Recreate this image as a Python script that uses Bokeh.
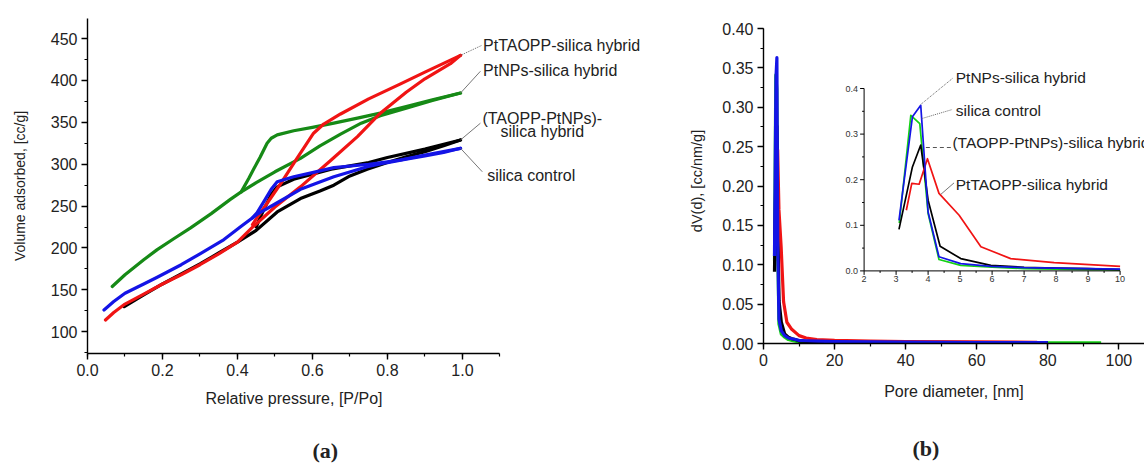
from bokeh.plotting import figure
from bokeh.models import Range1d, SingleIntervalTicker, PrintfTickFormatter, Title
from bokeh.layouts import row
from bokeh.embed import file_html
from bokeh.resources import INLINE
from bokeh.core.properties import value

# ---------------- Panel (a): N2 isotherms (P/Po, volume adsorbed cc/g)
green_ads_x = [0.066, 0.1, 0.15, 0.186, 0.23, 0.275, 0.33, 0.381, 0.41, 0.45, 0.5, 0.568, 0.62, 0.675, 0.73, 0.781, 0.85, 0.92, 0.995]
green_ads_y = [154, 168, 186, 198, 211, 224, 241, 258, 267, 278, 291, 307, 322, 336, 349, 358, 367, 376, 385]
green_des_x = [0.995, 0.92, 0.85, 0.781, 0.72, 0.657, 0.6, 0.55, 0.506, 0.49, 0.479, 0.46, 0.444, 0.43, 0.41]
green_des_y = [385, 377, 369, 361, 355, 349, 344, 340, 335, 331, 325, 308, 295, 283, 267]

red_ads_x = [0.048, 0.07, 0.1, 0.15, 0.2, 0.25, 0.3, 0.35, 0.4, 0.443, 0.5, 0.568, 0.65, 0.72, 0.781, 0.85, 0.9, 0.968, 0.995]
red_ads_y = [114, 123, 133, 145, 157, 168, 180, 193, 207, 226, 249, 273, 305, 333, 361, 386, 402, 420, 430]
red_des_x = [0.995, 0.9, 0.835, 0.75, 0.675, 0.63, 0.603, 0.56, 0.52, 0.48, 0.452, 0.44]
red_des_y = [430, 410, 396, 378, 360, 348, 337, 308, 280, 254, 236, 228]

black_ads_x = [0.098, 0.15, 0.2, 0.25, 0.3, 0.35, 0.4, 0.45, 0.506, 0.568, 0.62, 0.657, 0.7, 0.746, 0.8, 0.85, 0.9, 0.95, 0.995]
black_ads_y = [130, 144, 157, 169, 181, 194, 207, 221, 243, 259, 268, 275, 286, 294, 302, 309, 315, 322, 329]
black_des_x = [0.995, 0.9, 0.8, 0.75, 0.7, 0.65, 0.6, 0.55, 0.506, 0.49, 0.475, 0.46, 0.45]
black_des_y = [329, 318, 308, 302, 298, 294, 288, 282, 273, 264, 250, 236, 225]

blue_ads_x = [0.044, 0.07, 0.1, 0.15, 0.186, 0.25, 0.3, 0.364, 0.41, 0.452, 0.506, 0.568, 0.657, 0.746, 0.8, 0.85, 0.9, 0.95, 0.995]
blue_ads_y = [126, 136, 146, 157, 165, 180, 193, 210, 226, 240, 254, 270, 285, 297, 302, 306, 310, 314, 319]
blue_des_x = [0.995, 0.9, 0.835, 0.75, 0.657, 0.6, 0.55, 0.506, 0.49, 0.47, 0.452, 0.44]
blue_des_y = [319, 311, 305, 300, 296, 290, 285, 279, 270, 255, 242, 236]

names_a = ["PtTAOPP-silica hybrid", "PtNPs-silica hybrid", "(TAOPP-PtNPs)-", "silica hybrid", "silica control"]

# ---------------- Panel (b): pore size distribution (nm, cc/nm/g)
blue_d = [3.09, 3.51, 3.77, 4.0, 4.34, 5.02, 5.96, 7.0, 8.0, 9.0, 10.0, 12, 15, 20, 30, 40, 50, 60, 70, 80]
blue_v = [0.111, 0.338, 0.363, 0.129, 0.031, 0.016, 0.010, 0.007, 0.006, 0.005, 0.004, 0.0035, 0.003, 0.0025, 0.002, 0.0017, 0.0015, 0.0013, 0.0012, 0.001]
green_d = [3.1, 3.46, 3.74, 4.0, 4.34, 5.02, 6.0, 7.0, 8.0, 9.0, 10.0, 15, 20, 40, 60, 80, 95]
green_v = [0.105, 0.341, 0.323, 0.126, 0.025, 0.012, 0.008, 0.005, 0.004, 0.003, 0.002, 0.0015, 0.0012, 0.001, 0.0008, 0.0008, 0.0008]
black_d = [3.09, 3.51, 3.77, 4.0, 4.375, 5.02, 5.96, 7, 8, 9, 10, 15, 20, 40, 60, 80]
black_v = [0.091, 0.228, 0.276, 0.155, 0.054, 0.027, 0.012, 0.008, 0.006, 0.005, 0.003, 0.0025, 0.002, 0.0015, 0.0012, 0.001]
red_d = [3.32, 3.49, 3.72, 3.98, 4.34, 4.97, 5.65, 6.58, 7.94, 10, 12, 15, 20, 30, 40, 60, 77]
red_v = [0.133, 0.192, 0.190, 0.246, 0.170, 0.122, 0.053, 0.027, 0.018, 0.010, 0.007, 0.005, 0.004, 0.003, 0.0025, 0.002, 0.0015]

names_b = ["PtNPs-silica hybrid", "silica control", "(TAOPP-PtNPs)-silica hybrid", "PtTAOPP-silica hybrid"]
inset_xticks = [2, 3, 4, 5, 6, 7, 8, 9, 10]
inset_yticks = [0.0, 0.1, 0.2, 0.3, 0.4]

FONT = "Liberation Sans"
RED, GREEN_A, BLUE, BLACK, GREEN_B = "#f01414", "#168a16", "#1414e6", "#000000", "#14d214"


def style(p):
    p.outline_line_color = None
    p.grid.visible = False
    p.background_fill_color = "white"
    p.border_fill_color = "white"
    for ax in (p.xaxis[0], p.yaxis[0]):
        ax.axis_line_width = 1.4
        ax.major_tick_line_width = 1.4
        ax.minor_tick_line_width = 1.2
        ax.major_tick_out = 6
        ax.major_tick_in = 0
        ax.minor_tick_out = 3
        ax.minor_tick_in = 0
        ax.major_label_text_font = FONT
        ax.major_label_text_font_size = "16px"
        ax.major_label_text_color = "#222222"
        ax.axis_label_text_font = FONT
        ax.axis_label_text_font_size = "16px"
        ax.axis_label_text_font_style = "normal"
        ax.axis_label_text_color = "#222222"
    p.yaxis[0].axis_label_text_font_size = "14px"
    p.xaxis[0].major_label_standoff = 4
    p.xaxis[0].axis_label_standoff = 14
    p.yaxis[0].major_label_standoff = 4
    p.yaxis[0].axis_label_standoff = 20


def below_title(p, text, offset, standoff, font, size, bold=False):
    t = Title(text=text, align="left", offset=offset, standoff=standoff, text_font=font,
              text_font_size=size, text_font_style="bold" if bold else "normal", text_color="#222222")
    p.add_layout(t, "below")


# ---------------- figure (a)
p1 = figure(frame_width=568, frame_height=335, min_border_left=87, min_border_right=25,
            min_border_top=18, min_border_bottom=113,
            x_range=Range1d(0, 1.515), y_range=Range1d(74, 474),
            y_axis_label="Volume adsorbed, [cc/g]",
            output_backend="svg", toolbar_location=None)
style(p1)
p1.xaxis[0].ticker = SingleIntervalTicker(interval=0.2, num_minor_ticks=2)
p1.xaxis[0].formatter = PrintfTickFormatter(format="%.1f")
p1.xaxis[0].bounds = (0, 1.1)
p1.yaxis[0].ticker = SingleIntervalTicker(interval=50, num_minor_ticks=2)
below_title(p1, "Relative pressure, [P/Po]", 118, 18, FONT, "16px")
below_title(p1, "(a)", 225, 40, "Liberation Serif", "22px", bold=True)

for xs, ys, c in [(green_ads_x, green_ads_y, GREEN_A), (green_des_x, green_des_y, GREEN_A),
                  (black_ads_x, black_ads_y, BLACK), (black_des_x, black_des_y, BLACK),
                  (red_ads_x, red_ads_y, RED), (red_des_x, red_des_y, RED),
                  (blue_ads_x, blue_ads_y, BLUE), (blue_des_x, blue_des_y, BLUE)]:
    p1.line(xs, ys, line_color=c, line_width=3.2, line_join="round", line_cap="round")

# leader lines
p1.segment(x0=[red_ads_x[-1]], y0=[red_ads_y[-1]], x1=[1.052], y1=[442], line_color="#666666",
           line_width=1, line_dash="1 1")
p1.segment(x0=[green_ads_x[-1], black_ads_x[-1], blue_ads_x[-1]],
           y0=[green_ads_y[-1], black_ads_y[-1], blue_ads_y[-1]],
           x1=[1.048, 1.048, 1.053], y1=[411, 349, 291], line_color="#777777", line_width=1)
p1.text(x=[1.055, 1.055], y=[442, 411.5], text=names_a[:2], text_font=value(FONT),
        text_font_size="16px", text_baseline="middle", text_color="#222222")
p1.text(x=[1.213, 1.213], y=[354.5, 339.5], text=names_a[2:4], text_font=value(FONT),
        text_font_size="16px", text_baseline="middle", text_align="center", text_color="#222222")
p1.text(x=[1.066], y=[287], text=names_a[4:], text_font=value(FONT),
        text_font_size="16px", text_baseline="middle", text_color="#222222")

# ---------------- figure (b)
FW, FH = 381, 325
YPX = 787.5  # px per unit of dV on the main axis
p2 = figure(frame_width=FW, frame_height=FH, min_border_left=83, min_border_right=0,
            min_border_top=18, min_border_bottom=123,
            x_range=Range1d(0, 107.2), y_range=Range1d(0, 0.40 + 10 / YPX),
            x_axis_label="Pore diameter, [nm]", y_axis_label="dV(d), [cc/nm/g]",
            output_backend="svg", toolbar_location=None)
style(p2)
p2.xaxis[0].ticker = SingleIntervalTicker(interval=20, num_minor_ticks=2)
p2.yaxis[0].ticker = SingleIntervalTicker(interval=0.05, num_minor_ticks=2)
p2.yaxis[0].formatter = PrintfTickFormatter(format="%.2f")
p2.yaxis[0].bounds = (0, 0.40)
p2.yaxis[0].axis_label_standoff = 14
p2.yaxis[0].axis_label_text_font_size = "14.5px"
below_title(p2, "(b)", 149, 63, "Liberation Serif", "22px", bold=True)

series_b = [(green_d, green_v, GREEN_B), (black_d, black_v, BLACK), (red_d, red_v, RED), (blue_d, blue_v, BLUE)]
for xs, ys, c in series_b:
    p2.line(xs, ys, line_color=c, line_width=3.2, line_join="round")

# inset placed through extra ranges (pixel box inside the frame)
ins_left, ins_w, ins_bottom, ins_h = 100.6, 256.0, 72.6, 182.4
x0i, x1i = inset_xticks[0], inset_xticks[-1]
y0i, y1i = inset_yticks[0], inset_yticks[-1]
pxx = ins_w / (x1i - x0i)
pxy = ins_h / (y1i - y0i)
p2.extra_x_ranges = {"ix": Range1d(x0i - ins_left / pxx, x0i - ins_left / pxx + FW / pxx)}
p2.extra_y_ranges = {"iy": Range1d(y0i - ins_bottom / pxy, y0i - ins_bottom / pxy + FH / pxy)}
R = dict(x_range_name="ix", y_range_name="iy")

for xs, ys, c in series_b:
    sx = [a for a in xs if a <= x1i]
    sy = [b for a, b in zip(xs, ys) if a <= x1i]
    p2.line(sx, sy, line_color=c, line_width=1.7, line_join="round", **R)

# inset axes
p2.segment(x0=[x0i, x0i], y0=[y0i, y0i], x1=[x0i, x1i], y1=[y1i, y0i], line_color="black", line_width=1, **R)
p2.segment(x0=inset_xticks, y0=[y0i] * len(inset_xticks), x1=inset_xticks,
           y1=[y0i - 4 / pxy] * len(inset_xticks), line_color="black", line_width=1, **R)
xmin = [a + 0.5 for a in inset_xticks[:-1]]
p2.segment(x0=xmin, y0=[y0i] * len(xmin), x1=xmin, y1=[y0i - 2 / pxy] * len(xmin),
           line_color="black", line_width=1, **R)
p2.segment(x0=[x0i] * len(inset_yticks), y0=inset_yticks, x1=[x0i - 4 / pxx] * len(inset_yticks),
           y1=inset_yticks, line_color="black", line_width=1, **R)
ymin = [b + 0.05 for b in inset_yticks[:-1]]
p2.segment(x0=[x0i] * len(ymin), y0=ymin, x1=[x0i - 2 / pxx] * len(ymin), y1=ymin,
           line_color="black", line_width=1, **R)
p2.text(x=inset_xticks, y=[y0i - 5 / pxy] * len(inset_xticks), text=[str(t) for t in inset_xticks],
        text_font=value(FONT), text_font_size="9px", text_align="center", text_baseline="top",
        text_color="#333333", **R)
p2.text(x=[x0i - 6 / pxx] * len(inset_yticks), y=inset_yticks, text=["%.1f" % t for t in inset_yticks],
        text_font=value(FONT), text_font_size="9px", text_align="right", text_baseline="middle",
        text_color="#333333", **R)

# inset labels and leaders
p2.segment(x0=[3.77, 3.80], y0=[0.365, 0.334], x1=[4.76, 4.76], y1=[0.422, 0.354],
           line_color="#666666", line_width=1, line_dash="1 1", **R)
p2.segment(x0=[3.93], y0=[0.2706], x1=[4.71], y1=[0.2706], line_color="#555555", line_width=1,
           line_dash="4 3", **R)
p2.segment(x0=[4.40], y0=[0.168], x1=[4.81], y1=[0.193], line_color="#777777", line_width=1, **R)
p2.text(x=[4.865, 4.865, 4.76, 4.865], y=[0.424, 0.351, 0.281, 0.190], text=names_b,
        text_font=value(FONT), text_font_size="15.5px", text_baseline="middle", text_color="#222222", **R)

layout = row(p1, p2)
open("out.html", "w").write(file_html(layout, INLINE))
